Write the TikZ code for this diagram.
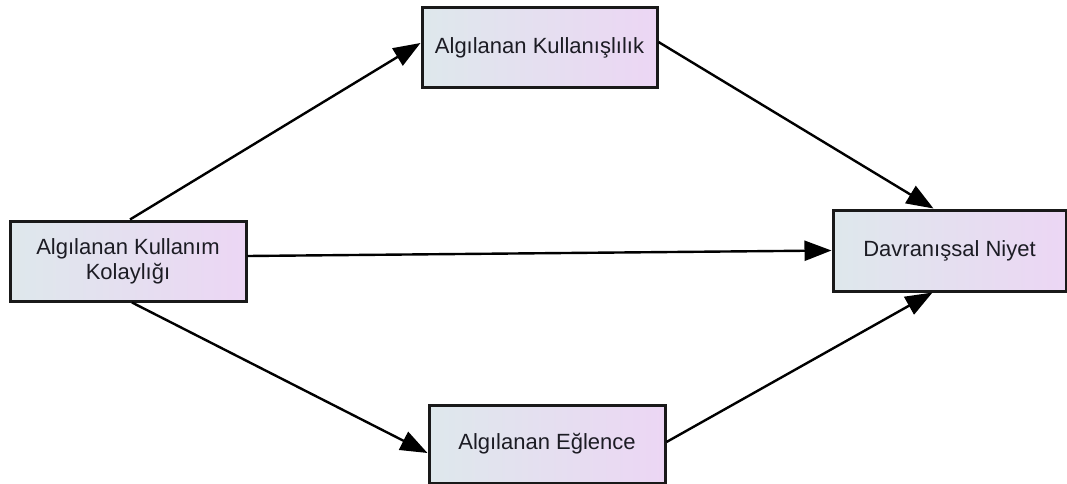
\documentclass[tikz,border=0pt]{standalone}
\usepackage{fontspec}
\setmainfont{Liberation Sans}
\usetikzlibrary{arrows.meta}
\definecolor{boxleft}{RGB}{222,232,236}
\definecolor{boxright}{RGB}{236,214,244}
\definecolor{textdark}{RGB}{28,28,36}
\begin{document}
\begin{tikzpicture}[x=1pt,y=1pt,
  factor/.style={draw=black!90, line width=3pt, rectangle,
    left color=boxleft, right color=boxright,
    text=textdark, align=center, inner sep=0pt,
    font=\fontsize{22}{25}\selectfont},
  link/.style={draw=black, line width=2.4pt,
    -{Triangle[length=27pt,width=20pt]}}]
\useasboundingbox (0,0) rectangle (1067,-484);
\fill[white] (0,0) rectangle (1067,-484);

% the four constructs
\node[factor, minimum width=236, minimum height=80] (kol) at (128,-261)
  {Algılanan Kullanım\\Kolaylığı};
\node[factor, minimum width=235, minimum height=80] (kul) at (539.5,-48)
  {Algılanan Kullanışlılık};
\node[factor, minimum width=236, minimum height=78] (egl) at (547,-444)
  {Algılanan Eğlence};
\node[factor, minimum width=233, minimum height=81] (niy) at (949.5,-250.5)
  {Davranışsal Niyet};

% hypothesised paths
\draw[link] ([xshift=2]kol.north) -- ([yshift=5]kul.west);
\draw[link] ([yshift=5]kol.east) -- (niy.west);
\draw[link] ([xshift=4]kol.south) -- ([yshift=-9]egl.west);
\draw[link] ([yshift=6]kul.east) -- ([xshift=-16]niy.north);
\draw[link] ([yshift=2]egl.east) -- ([xshift=-17]niy.south);
\end{tikzpicture}
\end{document}
